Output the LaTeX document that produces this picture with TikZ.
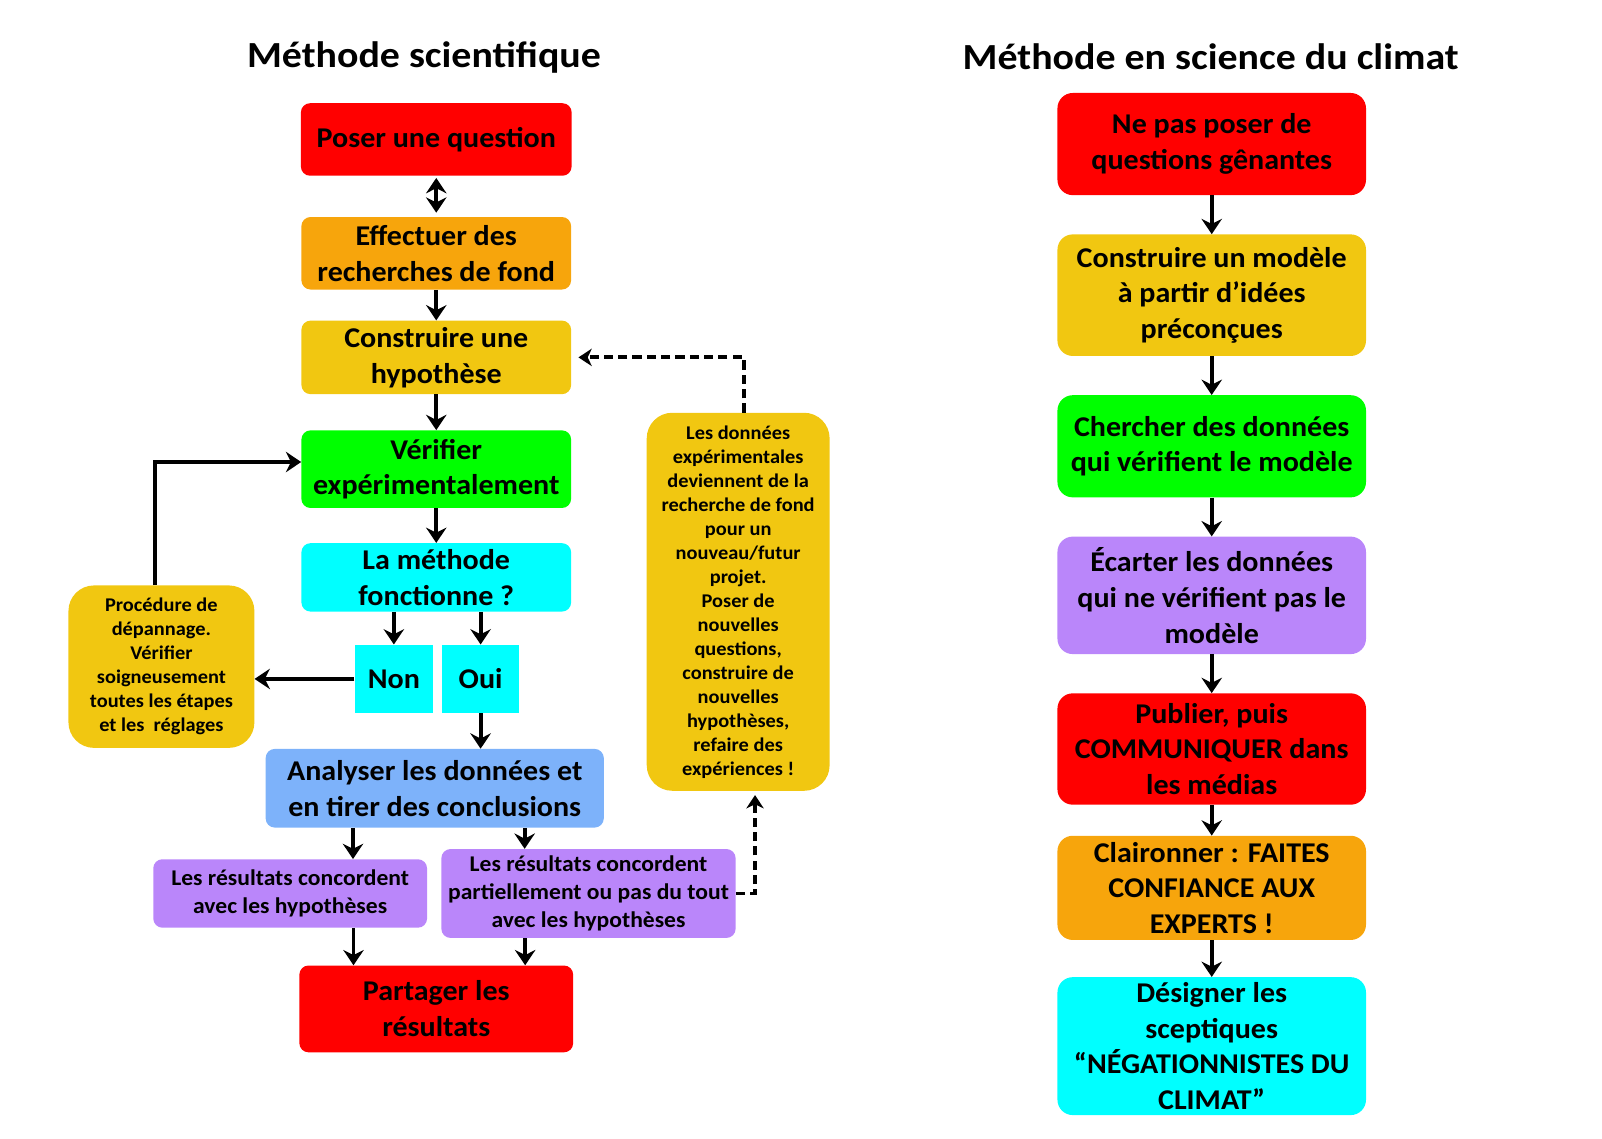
\documentclass[tikz,border=0pt]{standalone}
\usepackage{fontspec}
\setmainfont{Carlito}[FakeStretch=1.05]
\newfontfamily\titlefont{Carlito}[FakeStretch=1.085]
\usetikzlibrary{arrows.meta,positioning}

\definecolor{sred}{RGB}{255,0,0}
\definecolor{sorange}{RGB}{247,165,12}
\definecolor{syellow}{RGB}{241,199,17}
\definecolor{sgreen}{RGB}{0,255,0}
\definecolor{scyan}{RGB}{0,255,255}
\definecolor{sblue}{RGB}{125,178,250}
\definecolor{spurple}{RGB}{186,134,250}

\tikzset{
  bigtext/.style={font=\bfseries\fontsize{28}{35}\selectfont},
  midtext/.style={font=\bfseries\fontsize{22}{27.5}\selectfont},
  smalltext/.style={font=\bfseries\fontsize{19}{23.5}\selectfont},
  titletext/.style={font=\titlefont\bfseries\fontsize{36}{42}\selectfont}
}

\begin{document}
\begin{tikzpicture}[x=1pt, y=-1pt, >={Stealth[length=15pt,width=20pt,inset=5pt]}]
      \useasboundingbox (0,0) rectangle (1568,1114);
      \node[titletext] (titleA) at (415,56) {Méthode scientifique};
      \node[titletext] (titleB) at (1185,56) {Méthode en science du climat};
      \begin{scope}[every node/.style={rounded corners=9pt, align=center, inner sep=0pt, bigtext}]
        \node[fill=sred, minimum width=265, minimum height=71] (question) at (427,136.5) {Poser une question};
        \node[fill=sorange, minimum width=264, minimum height=71] (effectuer) [below=40pt of question] {Effectuer des\\recherches de fond};
        \node[fill=syellow, minimum width=264, minimum height=72] (hypothese) [below=30pt of effectuer] {Construire une\\hypothèse};
        \node[fill=sgreen, minimum width=264, minimum height=76] (verifier) [below=35pt of hypothese] {Vérifier\\expérimentalement};
        \node[fill=scyan, minimum width=264, minimum height=67] (methode) [below=34pt of verifier] {La méthode\\fonctionne ?};
        \node[fill=scyan, sharp corners, minimum width=77, minimum height=67] (non) at (385.5,664.5) {Non};
        \node[fill=scyan, sharp corners, minimum width=76, minimum height=67] (oui) [right=8pt of non] {Oui};
        \node[fill=syellow, smalltext, rounded corners=25pt, minimum width=182, minimum height=159] (depannage) at (158,652.5) {Procédure de\\dépannage.\\Vérifier\\soigneusement\\toutes les étapes\\et les~ réglages};
        \node[fill=sblue, minimum width=331, minimum height=77] (analyser) at (425.5,771.5) {Analyser les données et\\en tirer des conclusions};
        \node[fill=spurple, midtext, minimum width=268, minimum height=67] (accord) at (284,874.5) {Les résultats concordent\\avec les hypothèses};
        \node[fill=spurple, midtext, minimum width=288, minimum height=87] (desaccord) at (576,874.5) {Les résultats concordent\\partiellement ou pas du tout\\avec les hypothèses};
        \node[fill=sred, minimum width=268, minimum height=85] (partager) at (427,987.5) {Partager les\\résultats};
        \node[fill=syellow, smalltext, rounded corners=25pt, minimum width=179, minimum height=370] (nouveau) at (722.5,589) {Les données\\expérimentales\\deviennent de la\\recherche de fond\\pour un\\nouveau/futur\\projet.\\Poser de\\nouvelles\\questions,\\construire de\\nouvelles\\hypothèses,\\refaire des\\expériences !};
      \end{scope}
      \begin{scope}[every node/.style={rounded corners=15pt, align=center, inner sep=0pt, bigtext, minimum width=302}]
        \node[fill=sred, minimum height=100] (nepas) at (1186,141) {Ne pas poser de\\questions gênantes};
        \node[fill=syellow, minimum height=119] (modele) [below=38pt of nepas] {Construire un modèle\\à partir d’idées\\préconçues};
        \node[fill=sgreen, minimum height=100] (chercher) [below=38pt of modele] {Chercher des données\\qui vérifient le modèle};
        \node[fill=spurple, minimum height=115] (ecarter) [below=38pt of chercher] {Écarter les données\\qui ne vérifient pas le\\modèle};
        \node[fill=sred, minimum height=109] (publier) [below=38pt of ecarter] {Publier, puis\\COMMUNIQUER dans\\les médias};
        \node[fill=sorange, minimum height=102] (claironner) [below=30pt of publier] {Claironner : FAITES\\CONFIANCE AUX\\EXPERTS !};
        \node[fill=scyan, minimum height=135] (designer) [below=36pt of claironner] {Désigner les\\sceptiques\\“NÉGATIONNISTES DU\\CLIMAT”};
      \end{scope}
      \begin{scope}[every edge/.style={draw=black, line width=3.8pt, ->}]
        \path (question) edge[<->, shorten >=4pt, shorten <=2pt] (effectuer);
        \path (effectuer) edge (hypothese);
        \path (hypothese) edge (verifier);
        \path (verifier) edge (methode);
        \path (methode.south -| non.north) edge (non.north);
        \path (methode.south -| oui.north) edge (oui.north);
        \path (non.west) edge (non.west -| depannage.east);
        \path (oui.south) edge (oui.south |- analyser.north);
        \path ([xshift=-80pt]analyser.south) edge ([xshift=-80pt]analyser.south |- accord.north);
        \path ([xshift=88pt]analyser.south) edge ([xshift=88pt]analyser.south |- desaccord.north);
        \path ([xshift=62pt]accord.south) edge ([xshift=62pt]accord.south |- partager.north);
        \path ([xshift=-62pt]desaccord.south) edge ([xshift=-62pt]desaccord.south |- partager.north);
        \path (nepas) edge (modele);
        \path (modele) edge (chercher);
        \path (chercher) edge (ecarter);
        \path (ecarter) edge (publier);
        \path (publier) edge (claironner);
        \path (claironner) edge (designer);
      \end{scope}
      \draw[line width=3.8pt, ->] ([xshift=-6pt]depannage.north) |- ([yshift=7pt]verifier.west);
      \begin{scope}[line width=3.8pt, dash pattern=on 9pt off 5pt, >={Stealth[length=13pt,width=17pt,inset=4pt]}]
        \draw[->] (desaccord.east) -| ([xshift=16.5pt, yshift=-4pt]nouveau.south);
        \draw[->] ([xshift=5.5pt]nouveau.north) |- ([xshift=7pt]hypothese.east);
      \end{scope}
    \end{tikzpicture}
\end{document}
